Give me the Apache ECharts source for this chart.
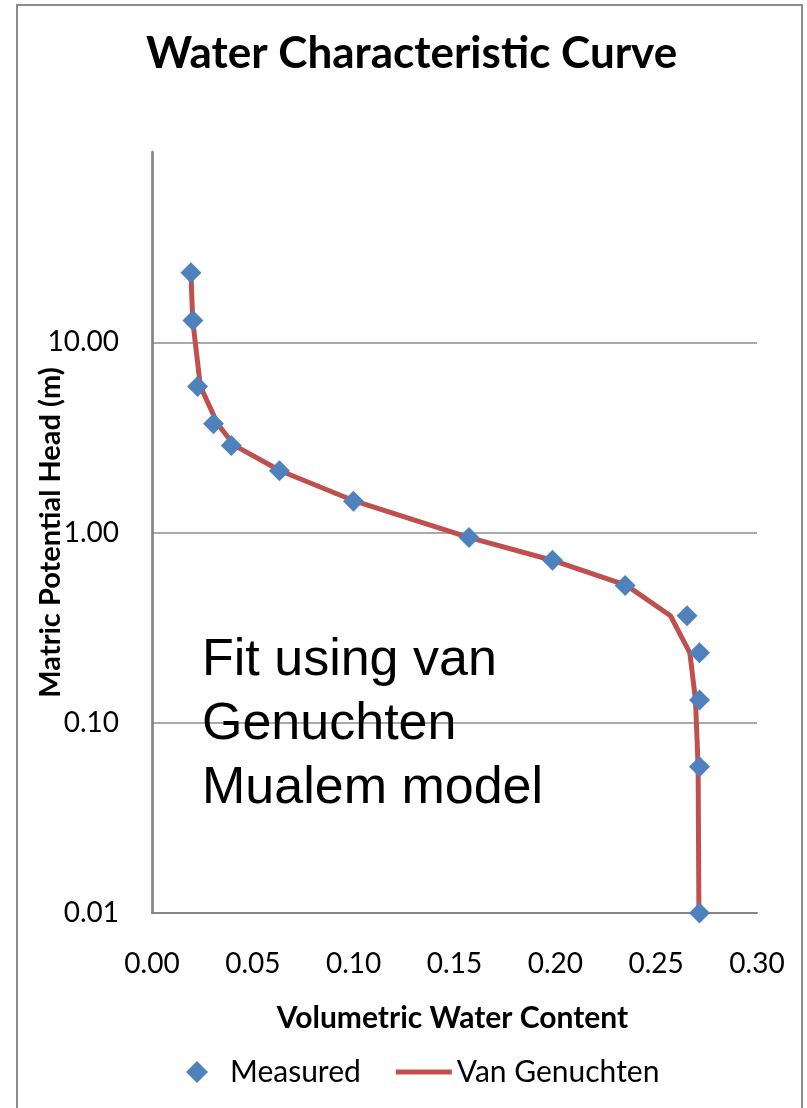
<!DOCTYPE html>
<html>
<head>
<meta charset="utf-8">
<script src="https://cdn.jsdelivr.net/npm/echarts@6/dist/echarts.min.js"></script>
<style>
  html, body { margin: 0; padding: 0; background: #ffffff; }
  #chart { width: 807px; height: 1108px; }
</style>
</head>
<body>
<div id="chart"></div>
<script>
// Matric potential head (m) at each sample
const headM = [23.2, 13.0, 5.86, 3.73, 2.87, 2.11, 1.46, 0.942, 0.715, 0.527, 0.365, 0.233, 0.1317, 0.0588, 0.01];
// Measured volumetric water content
const thetaMeasured = [0.0193, 0.0203, 0.0226, 0.0305, 0.0393, 0.0632, 0.0999, 0.1572, 0.1986, 0.2346, 0.2653, 0.2715, 0.2715, 0.2715, 0.2715];
// Van Genuchten–Mualem fitted water content at the same heads
const thetaVG = [0.0193, 0.0202, 0.0240, 0.0325, 0.0408, 0.0636, 0.1007, 0.1570, 0.1984, 0.2353, 0.2571, 0.2667, 0.2695, 0.2708, 0.2712];
// Axis ticks
const xTicks = [0.00, 0.05, 0.10, 0.15, 0.20, 0.25, 0.30];
const yDecades = [0.01, 0.1, 1, 10, 100];

const measuredPts = thetaMeasured.map((t, i) => [t, headM[i]]);
const vgPts = thetaVG.map((t, i) => [t, headM[i]]);

const axisGrey = '#868686';
const fontCal = "Lato, 'Noto Sans', sans-serif";

// legend glyphs: a square diamond and a thick flat bar
const diamondIcon = 'path://M11,0 L22,11 L11,22 L0,11 Z';
const barIcon = 'path://M0,0 L56,0 L56,5 L0,5 Z';

const chart = echarts.init(document.getElementById('chart'), null, { renderer: 'canvas' });
chart.setOption({
  backgroundColor: '#ffffff',
  animation: false,
  title: {
    text: 'Water Characteristic Curve',
    left: 146,
    top: 32,
    padding: 0,
    textStyle: { fontFamily: fontCal, fontWeight: 'bold', fontSize: 44, color: '#000000' }
  },
  grid: { left: 152, right: 50, top: 152, bottom: 195, containLabel: false },
  xAxis: {
    type: 'value',
    min: xTicks[0],
    max: xTicks[xTicks.length - 1],
    interval: 0.05,
    name: 'Volumetric Water Content',
    nameLocation: 'middle',
    nameGap: 90,
    nameMoveOverlap: false,
    nameTextStyle: { fontFamily: fontCal, fontWeight: 'bold', fontSize: 30, color: '#000000', padding: [0, 4, 0, 0] },
    axisLine: { show: true, onZero: false, lineStyle: { color: axisGrey, width: 2 } },
    axisTick: { show: false },
    splitLine: { show: false },
    axisLabel: {
      margin: 37,
      fontFamily: fontCal,
      fontSize: 28,
      color: '#000000',
      formatter: v => v.toFixed(2)
    }
  },
  yAxis: {
    type: 'log',
    logBase: 10,
    min: yDecades[0],
    max: yDecades[yDecades.length - 1],
    name: 'Matric Potential Head (m)',
    nameLocation: 'middle',
    nameGap: 87,
    nameMoveOverlap: false,
    nameTextStyle: { fontFamily: fontCal, fontWeight: 'bold', fontSize: 29, color: '#000000' },
    axisLine: { show: true, onZero: false, lineStyle: { color: axisGrey, width: 2.7 } },
    axisTick: { show: false },
    splitLine: { show: true, showMinLine: false, showMaxLine: false, lineStyle: { color: '#8c8c8c', width: 1.5 } },
    axisLabel: {
      margin: 33,
      fontFamily: fontCal,
      fontSize: 28,
      color: '#000000',
      showMaxLabel: false,
      formatter: v => (v >= 100 ? '' : v.toFixed(2))
    }
  },
  legend: {
    left: 181,
    top: 1052,
    itemWidth: 56,
    itemHeight: 22,
    itemGap: 35,
    symbolKeepAspect: true,
    textStyle: { fontFamily: fontCal, fontSize: 30, color: '#000000' },
    data: [
      { name: 'Measured', icon: diamondIcon },
      { name: 'Van Genuchten', icon: barIcon }
    ]
  },
  series: [
    {
      name: 'Van Genuchten',
      type: 'line',
      data: vgPts,
      symbol: 'none',
      smooth: false,
      z: 2,
      lineStyle: { color: '#C0504D', width: 5 },
      itemStyle: { color: '#C0504D' }
    },
    {
      name: 'Measured',
      type: 'scatter',
      data: measuredPts,
      symbol: 'diamond',
      symbolSize: 21,
      z: 3,
      itemStyle: { color: '#4F81BD', opacity: 1 }
    }
  ],
  graphic: [
    {
      type: 'rect',
      shape: { x: 17, y: 5, width: 785, height: 1130 },
      style: { fill: 'none', stroke: '#8c8c8c', lineWidth: 2 },
      silent: true,
      z: -10
    },
    {
      type: 'text',
      left: 202,
      top: 629,
      style: {
        text: 'Fit using van\nGenuchten\nMualem model',
        font: "52px 'Liberation Sans', Arial, sans-serif",
        lineHeight: 64,
        fill: '#000000'
      },
      z: 10
    }
  ]
});
</script>
</body>
</html>
